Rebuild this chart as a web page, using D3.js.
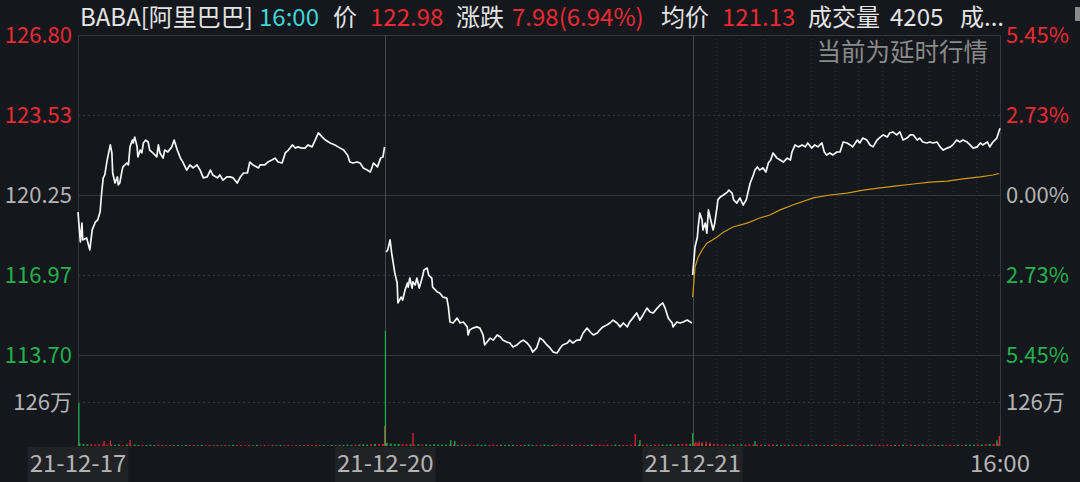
<!DOCTYPE html>
<html>
<head>
<meta charset="utf-8">
<title>BABA 分时</title>
<style>
  html, body { margin: 0; padding: 0; background: #14171c; }
  svg { display: block; }
  text { font-family: "Noto Sans CJK SC", "Noto Sans", sans-serif; }
</style>
<script src="https://cdnjs.cloudflare.com/ajax/libs/d3/7.8.5/d3.min.js"></script>
</head>
<body>
<svg id="chart" width="1080" height="482"></svg>
<script>
// ---- data ----
// time is minutes since the first open, 390 minutes per session, 3 sessions
var dayLabels = ["21-12-17", "21-12-20", "21-12-21", "16:00"];
var priceTicks = [126.80, 123.53, 120.25, 116.97, 113.70];
var pctTicks = ["5.45%", "2.73%", "0.00%", "2.73%", "5.45%"];
var volTick = 126; // 万

var headerItems = [
  ["BABA[阿里巴巴]", "w"], ["16:00", "c"], ["价", "w"], ["122.98", "r"],
  ["涨跌", "w"], ["7.98(6.94%)", "r"], ["均价", "w"], ["121.13", "r"],
  ["成交量", "w"], ["4205", "w"], ["成...", "w"]
];

var priceLine = [
  [0,119.55],[3,118.33],[5,119.10],[6,118.41],[11,118.49],[15,118.00],[18,118.82],[22,119.14],
  [25,119.23],[28,119.55],[30,120.33],[32,120.95],[34,121.07],[37,121.68],[41,122.30],[43,121.97],
  [44,121.15],[47,120.74],[50,120.99],[51,120.66],[53,120.74],[56,121.27],[57,121.40],[62,121.56],
  [64,121.48],[66,122.22],[69,122.50],[70,122.38],[72,122.62],[75,122.22],[76,121.81],[79,122.09],
  [81,121.97],[83,122.38],[86,122.50],[89,122.42],[91,122.09],[95,121.97],[100,121.81],[102,122.30],
  [104,121.97],[108,121.76],[110,122.09],[114,122.01],[119,122.22],[122,122.50],[126,122.09],
  [130,121.76],[133,121.60],[138,121.27],[142,121.48],[146,121.36],[151,121.48],[155,121.27],
  [159,120.95],[164,120.99],[168,121.27],[171,121.07],[177,120.95],[180,121.07],[184,120.86],
  [189,120.99],[193,120.99],[197,120.95],[202,120.74],[206,120.99],[210,121.15],[215,121.15],
  [218,121.60],[222,121.48],[229,121.36],[231,121.48],[237,121.48],[241,121.60],[246,121.68],
  [250,121.76],[254,121.60],[259,121.56],[263,121.97],[267,122.09],[272,122.30],[276,122.17],
  [279,122.22],[284,122.17],[288,122.17],[292,122.30],[297,122.22],[301,122.50],[305,122.79],
  [310,122.62],[314,122.50],[320,122.38],[326,122.30],[330,122.22],[337,122.09],[342,121.89],
  [345,121.60],[349,121.56],[354,121.60],[358,121.56],[362,121.36],[367,121.27],[371,121.19],
  [375,121.56],[380,121.40],[384,121.76],[387,121.81],[389,122.22],
  [391,117.92],[393,118.00],[396,118.41],[398,117.88],[400,117.47],[402,117.06],[405,116.65],
  [406,115.83],[410,116.07],[412,115.95],[415,116.36],[418,116.65],[419,116.48],[421,116.85],
  [424,116.44],[425,116.69],[428,116.57],[430,116.85],[433,116.44],[437,116.89],[439,117.18],
  [443,117.26],[445,116.97],[449,116.85],[450,116.48],[456,116.28],[459,116.24],[463,116.07],
  [468,116.03],[470,115.67],[472,115.05],[476,115.01],[481,115.21],[485,115.01],[489,115.05],
  [494,114.85],[495,114.52],[497,114.72],[501,114.80],[506,114.85],[510,114.80],[514,114.52],
  [516,114.11],[519,114.23],[523,114.39],[527,114.31],[532,114.52],[536,114.44],[539,114.31],
  [544,114.23],[548,114.19],[552,114.03],[557,114.11],[561,114.23],[565,114.31],[570,114.19],
  [574,114.03],[577,113.82],[582,113.99],[586,114.39],[590,114.31],[595,114.11],[599,113.99],
  [603,113.82],[608,113.78],[612,113.99],[615,114.11],[621,114.19],[624,114.31],[628,114.19],
  [633,114.31],[637,114.31],[641,114.60],[646,114.80],[650,114.64],[654,114.52],[659,114.60],
  [662,114.72],[666,114.85],[671,114.93],[675,115.01],[679,115.13],[684,115.01],[688,114.85],
  [692,115.01],[697,114.85],[700,115.05],[704,115.21],[709,115.42],[713,115.13],[717,115.34],
  [722,115.62],[726,115.46],[730,115.42],[735,115.62],[739,115.75],[742,115.83],[745,115.62],
  [749,115.21],[754,115.01],[755,114.85],[760,115.05],[764,115.01],[768,115.05],[773,115.13],
  [777,115.05],[779,115.01],
  [780,116.97],[783,118.12],[786,118.53],[787,118.94],[789,119.51],[792,119.23],[793,118.82],
  [796,119.10],[798,118.69],[800,119.64],[802,119.35],[805,118.94],[806,118.82],[808,119.10],
  [811,119.76],[812,120.05],[815,120.17],[819,120.25],[824,120.37],[826,120.45],[830,120.33],
  [832,120.05],[836,119.92],[840,120.13],[844,119.84],[848,120.05],[850,120.33],[853,120.74],
  [857,121.07],[859,121.27],[862,121.40],[865,121.27],[869,121.36],[873,121.19],[876,121.56],
  [879,121.68],[882,121.97],[887,121.76],[891,121.68],[895,121.60],[900,121.76],[904,121.68],
  [906,122.01],[910,122.30],[914,122.22],[919,122.30],[923,122.22],[926,122.38],[931,122.17],
  [935,122.30],[939,122.22],[944,122.38],[947,122.01],[950,121.89],[954,121.97],[958,121.89],
  [963,122.01],[967,122.01],[971,122.42],[976,122.38],[980,122.30],[983,122.22],[989,122.50],
  [992,122.38],[996,122.58],[1001,122.50],[1005,122.30],[1009,122.22],[1014,122.50],[1018,122.62],
  [1022,122.71],[1027,122.62],[1030,122.79],[1034,122.83],[1039,122.71],[1043,122.83],[1047,122.50],
  [1052,122.58],[1056,122.71],[1060,122.71],[1065,122.50],[1068,122.58],[1072,122.42],[1077,122.38],
  [1081,122.42],[1085,122.38],[1090,122.42],[1094,122.22],[1098,122.09],[1103,122.17],[1107,122.22],
  [1110,122.30],[1115,122.50],[1119,122.42],[1123,122.50],[1128,122.42],[1132,122.30],[1136,122.17],
  [1141,122.22],[1145,122.38],[1148,122.30],[1154,122.42],[1157,122.22],[1161,122.42],[1166,122.58],
  [1170,122.98]
];

var avgLine = [
  [780,116.07],[783,117.30],[787,117.71],[792,118.00],[798,118.28],[805,118.41],[811,118.53],
  [819,118.73],[831,118.94],[849,119.10],[865,119.31],[878,119.43],[891,119.64],[907,119.84],
  [933,120.13],[954,120.25],[976,120.33],[996,120.45],[1018,120.54],[1039,120.62],[1060,120.70],
  [1081,120.78],[1103,120.82],[1123,120.91],[1145,120.99],[1161,121.07],[1169,121.13]
];

// notable volume bars: [minute, 万, 1 = up (red) / 0 = down (green)]
var bigVol = [
  [1,123,0],[33,14,1],[41,16,1],[66,17,1],[389,57,1],[390,330,0],[425,37,1],
  [473,17,0],[478,15,0],[707,34,1],[713,17,0],[780,37,0],[784,12,1],[788,13,1],
  [792,11,1],[797,12,1],[802,10,1],[859,14,0],[1166,16,0],[1169,29,1]
];

// background volume, one digit (万) per 5-minute bucket, per session
var smallVol = [
  "865545444343434333434323232333232323232333232323232323232332323232334344545666",
  "976655545454544444343434343434343333433343343434343343434343334343434444545666",
  "877566545454545444344434343434343333433343343434343334343343343434343444545667"
];

// ---- layout ----
var plotL = 78, plotR = 1000, plotT = 35, priceB = 355, volB = 446;
var red = "#ec2a33", green = "#21b34c", gray = "#b4b4b4", white = "#e4e4e4", cyan = "#3fd6d8";
var gridCol = "#33363c";

var svg = d3.select("#chart");
svg.append("rect").attr("width", 1080).attr("height", 482).attr("fill", "#14171c");

var x = d3.scaleLinear().domain([0, 1170]).range([plotL, plotR]);
var y = d3.scaleLinear().domain([113.70, 126.80]).range([priceB, plotT]);
var yv = d3.scaleLinear().domain([0, volTick]).range([volB, 402]);

var tickColor = function(i) { return i < 2 ? red : (i == 2 ? gray : green); };
var px = function(v) { return Math.round(v) + 0.5; };

// horizontal grid
svg.selectAll("line.hgrid").data(priceTicks).enter().append("line")
  .attr("x1", plotL).attr("x2", plotR)
  .attr("y1", function(d) { return px(y(d)); })
  .attr("y2", function(d) { return px(y(d)); })
  .attr("stroke", gridCol).attr("stroke-width", 1)
  .attr("stroke-dasharray", function(d, i) { return i % 2 ? "2,3" : null; });

svg.append("line").attr("x1", plotL).attr("x2", plotR)
  .attr("y1", px(yv(volTick))).attr("y2", px(yv(volTick)))
  .attr("stroke", gridCol).attr("stroke-dasharray", "2,3");

// half hour dotted lines on the last session
var halfHours = d3.range(1, 13).map(function(k) { return 780 + k * 30; });
svg.selectAll("line.vgrid").data(halfHours).enter().append("line")
  .attr("x1", function(d) { return px(x(d)); })
  .attr("x2", function(d) { return px(x(d)); })
  .attr("y1", plotT).attr("y2", volB)
  .attr("stroke", "#2a2d33").attr("stroke-dasharray", "1,3");

// frame + session dividers
[0, 1170].forEach(function(t) {
  svg.append("line").attr("x1", px(x(t))).attr("x2", px(x(t)))
    .attr("y1", plotT).attr("y2", volB).attr("stroke", gridCol);
});
[390, 780].forEach(function(t) {
  svg.append("line").attr("x1", px(x(t))).attr("x2", px(x(t)))
    .attr("y1", plotT).attr("y2", volB).attr("stroke", "#45484e");
});

// price lookup for volume colours
var bis = d3.bisector(function(d) { return d[0]; }).left;
function priceAt(t) {
  var i = bis(priceLine, t);
  if (i <= 0) return priceLine[0][1];
  if (i >= priceLine.length) return priceLine[priceLine.length - 1][1];
  var a = priceLine[i - 1], b = priceLine[i];
  return a[1] + (b[1] - a[1]) * (t - a[0]) / (b[0] - a[0]);
}

// small volume bars
var small = [];
smallVol.forEach(function(s, day) {
  s.slice(0, 78).split("").forEach(function(c, k) {
    var t = day * 390 + k * 5;
    small.push({ t: t, v: +c, up: priceAt(t + 4) >= priceAt(t) });
  });
});
svg.selectAll("rect.sv").data(small).enter().append("rect")
  .attr("x", function(d) { return x(d.t) + 0.5; })
  .attr("width", 2)
  .attr("y", function(d) { return yv(d.v); })
  .attr("height", function(d) { return volB - yv(d.v); })
  .attr("fill", function(d, i) { return d.up ? "#c8202a" : "#1e9a3c"; });

svg.selectAll("rect.bv").data(bigVol).enter().append("rect")
  .attr("x", function(d) { return x(d[0]) - 0.5; })
  .attr("width", 1.2)
  .attr("y", function(d) { return yv(d[1]); })
  .attr("height", function(d) { return volB - yv(d[1]); })
  .attr("fill", function(d) { return d[2] ? red : green; });

// price and average lines, one path per session
var line = d3.line().x(function(d) { return x(d[0]); }).y(function(d) { return y(d[1]); });
[0, 1, 2].forEach(function(day) {
  var seg = priceLine.filter(function(d) {
    return (d[0] >= day * 390 && d[0] < day * 390 + 390) || (day == 2 && d[0] == 1170);
  });
  svg.append("path").datum(seg).attr("d", line)
    .attr("fill", "none").attr("stroke", "#f6f6f6").attr("stroke-width", 1.7)
    .attr("stroke-linejoin", "round");
});
svg.append("path").datum(avgLine).attr("d", line)
  .attr("fill", "none").attr("stroke", "#d19a12").attr("stroke-width", 1.2);

// axis labels
svg.selectAll("text.ly").data(priceTicks).enter().append("text")
  .attr("x", 72).attr("y", function(d) { return y(d); })
  .attr("dy", "0.35em").attr("text-anchor", "end")
  .attr("font-size", 22).attr("fill", function(d, i) { return tickColor(i); })
  .text(function(d) { return d.toFixed(2); });

svg.selectAll("text.ry").data(pctTicks).enter().append("text")
  .attr("x", 1006).attr("y", function(d, i) { return y(priceTicks[i]); })
  .attr("dy", "0.35em").attr("font-size", 22)
  .attr("fill", function(d, i) { return tickColor(i); })
  .text(function(d) { return d; });

svg.append("text").attr("x", 72).attr("y", yv(volTick)).attr("dy", "0.35em")
  .attr("text-anchor", "end").attr("font-size", 22).attr("fill", gray).text(volTick + "万");
svg.append("text").attr("x", 1006).attr("y", yv(volTick)).attr("dy", "0.35em")
  .attr("font-size", 22).attr("fill", gray).text(volTick + "万");

// date labels
var dateX = [0, 390, 780, 1170];
dayLabels.forEach(function(lbl, i) {
  var g = svg.append("g");
  var t = g.append("text").attr("x", x(dateX[i])).attr("y", 464).attr("dy", "0.35em")
    .attr("text-anchor", "middle").attr("font-size", 24).attr("fill", gray).text(lbl);
  if (i < 3) {
    var w = t.node().getComputedTextLength();
    g.insert("rect", "text").attr("x", x(dateX[i]) - w / 2 - 2).attr("y", 447)
      .attr("width", w + 4).attr("height", 35).attr("fill", "#212226");
  }
});

// header
var headerX = [80, 259, 333, 370, 456, 512, 661, 722, 808, 890, 960];
var colMap = { w: white, c: cyan, r: red };
svg.selectAll("text.hd").data(headerItems).enter().append("text")
  .attr("x", function(d, i) { return headerX[i]; }).attr("y", 26)
  .attr("font-size", 24).attr("fill", function(d) { return colMap[d[1]]; })
  .text(function(d) { return d[0]; });
svg.append("rect").attr("x", 1075).attr("y", 7).attr("width", 5).attr("height", 14).attr("fill", "#8a8a8a");

svg.append("text").attr("x", 988).attr("y", 52).attr("dy", "0.35em")
  .attr("text-anchor", "end").attr("font-size", 24.5).attr("fill", "#8a8a8a")
  .text("当前为延时行情");
</script>
</body>
</html>
